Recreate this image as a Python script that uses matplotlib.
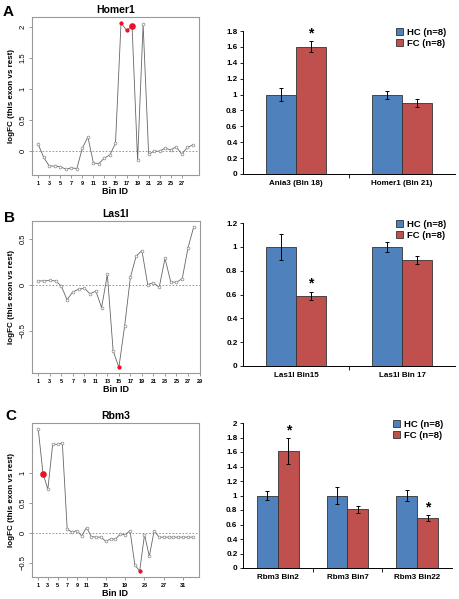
import matplotlib
matplotlib.use("Agg")
import matplotlib.pyplot as plt

plt.rcParams["font.family"] = ["Liberation Sans", "DejaVu Sans"]

# line plot data (logFC per bin)
homer_fc = [0.11, -0.10, -0.24, -0.24, -0.25, -0.29, -0.27, -0.28, 0.05, 0.23,
            -0.19, -0.20, -0.11, -0.06, 0.13, 2.07, 1.95, 2.02, -0.15, 2.05,
            -0.05, 0.00, 0.00, 0.05, 0.02, 0.07, -0.05, 0.06, 0.10]
homer_red = [16, 17, 18]
homer_big = 18

las_fc = [0.04, 0.04, 0.045, 0.04, -0.015, -0.165, -0.08, -0.05, -0.04, -0.10,
          -0.07, -0.25, 0.11, -0.72, -0.90, -0.45, 0.08, 0.31, 0.37, 0.00,
          0.02, -0.03, 0.285, 0.03, 0.025, 0.065, 0.40, 0.63]
las_red = [15]
las_big = None

rbm_fc = [1.74, 0.99, 0.73, 1.48, 1.48, 1.50, 0.07, 0.01, 0.04, -0.05,
          0.09, -0.06, -0.07, -0.07, -0.14, -0.10, -0.10, -0.02, -0.03, 0.04,
          -0.53, -0.64, -0.03, -0.39, 0.04, -0.07, -0.07, -0.07, -0.07, -0.07,
          -0.07, -0.07, -0.07]
rbm_red = [2, 22]
rbm_big = 2

# bar chart data
a_cats = ["Ania3 (Bin 18)", "Homer1 (Bin 21)"]
a_hc = [1.0, 1.0]
a_hc_err = [0.08, 0.05]
a_fc = [1.60, 0.89]
a_fc_err = [0.07, 0.05]
a_star = [0]

b_cats = ["Las1l Bin15", "Las1l Bin 17"]
b_hc = [1.0, 1.0]
b_hc_err = [0.107, 0.04]
b_fc = [0.59, 0.89]
b_fc_err = [0.035, 0.035]
b_star = [0]

c_cats = ["Rbm3 Bin2", "Rbm3 Bin7", "Rbm3 Bin22"]
c_hc = [1.0, 1.0, 1.0]
c_hc_err = [0.06, 0.115, 0.075]
c_fc = [1.61, 0.81, 0.69]
c_fc_err = [0.18, 0.05, 0.045]
c_star = [0, 2]

W, H = 460, 599
fig = plt.figure(figsize=(W / 100, H / 100), dpi=100)


def px(l, t, r, b):
    return [l / W, 1 - b / H, (r - l) / W, (b - t) / H]


def line_panel(rect, vals, red, big, xticks, yticks, title, letter, lpos):
    ax = fig.add_axes(px(*rect))
    bins = list(range(1, len(vals) + 1))
    ax.plot(bins, vals, color="#666666", lw=0.6, zorder=2)
    ax.scatter(bins, vals, s=4, facecolor="white", edgecolor="#888888",
               lw=0.5, zorder=3)
    ax.scatter(red, [vals[i - 1] for i in red], s=4, color="#e8102a", zorder=4)
    if big:
        ax.scatter([big], [vals[big - 1]], s=14, color="#e8102a", zorder=5)
    ax.axhline(0, color="#888888", lw=0.6, ls=(0, (2, 2)), zorder=1)
    n = len(vals)
    ax.set_xlim(1 - 0.04 * (n - 1), n + 0.04 * (n - 1))
    lo, hi = min(vals), max(vals)
    ax.set_ylim(lo - 0.04 * (hi - lo), hi + 0.04 * (hi - lo))
    ax.set_xticks(xticks)
    ax.set_xticklabels([str(x) for x in xticks], fontsize=4, fontweight="bold")
    ax.set_yticks(yticks)
    ax.set_yticklabels([f"{y:g}".replace("-", "\u2212") for y in yticks],
                       fontsize=5.5, rotation=90, va="center")
    for s in ax.spines.values():
        s.set_color("#999999")
        s.set_linewidth(0.8)
    ax.tick_params(colors="#888888", labelcolor="black", length=2.5, width=0.6,
                   pad=1.5)
    ax.set_xlabel("Bin ID", fontsize=6.5, fontweight="bold", labelpad=1)
    ax.set_ylabel("logFC (this exon vs rest)", fontsize=5.8, fontweight="bold",
                  labelpad=3)
    ax.set_title(title, fontsize=7.5, fontweight="bold", pad=3)
    fig.text(lpos[0] / W, 1 - lpos[1] / H, letter, fontsize=11,
             fontweight="bold", ha="left", va="center")
    return ax


def bar_panel(rect, cats, hc, hce, fc, fce, stars, ymax, width):
    ax = fig.add_axes(px(*rect))
    x = list(range(len(cats)))
    xh = [i - width / 2 for i in x]
    xf = [i + width / 2 for i in x]
    ek = dict(ecolor="black", elinewidth=0.7, capsize=1.5, capthick=0.7)
    ax.bar(xh, hc, width, yerr=hce, color="#4f81bd", edgecolor="#333333",
           lw=0.6, label="HC (n=8)", error_kw=ek)
    ax.bar(xf, fc, width, yerr=fce, color="#c0504d", edgecolor="#333333",
           lw=0.6, label="FC (n=8)", error_kw=ek)
    for i in stars:
        ax.text(xf[i], fc[i] + fce[i] + 0.005 * ymax, "*", ha="center",
                va="bottom", fontsize=10, fontweight="bold")
    ax.set_xlim(-0.5, len(cats) - 0.5)
    ax.set_ylim(0, ymax)
    yt = [round(0.2 * k, 1) for k in range(int(round(ymax / 0.2)) + 1)]
    ax.set_yticks(yt)
    ax.set_yticklabels([f"{y:g}" for y in yt], fontsize=5.8, fontweight="bold")
    ax.set_xticks(x)
    ax.set_xticklabels(cats, fontsize=5.8, fontweight="bold")
    ax.set_xticks([i + 0.5 for i in x[:-1]], minor=True)
    ax.tick_params(axis="x", which="major", length=0, pad=4)
    ax.tick_params(axis="x", which="minor", length=3, width=0.6)
    ax.tick_params(axis="y", length=2.5, width=0.6, pad=1.5)
    ax.spines["top"].set_visible(False)
    ax.spines["right"].set_visible(False)
    for s in ["left", "bottom"]:
        ax.spines[s].set_linewidth(0.7)
    ax.legend(loc="upper right", bbox_to_anchor=(1.0, 1.08), frameon=False,
              prop={"weight": "bold", "size": 6.8},
              handlelength=0.8, handleheight=0.8, handletextpad=0.4,
              labelspacing=0.2)
    return ax


line_panel((32, 17, 199, 175), homer_fc, homer_red, homer_big,
           list(range(1, 28, 2)), [0, 0.5, 1, 1.5, 2], "Homer1", "A", (3, 12))
line_panel((32, 221, 200, 373), las_fc, las_red, las_big,
           list(range(1, 30, 2)), [-0.5, 0, 0.5], "Las1l", "B", (4, 218))
line_panel((32, 423, 199, 577), rbm_fc, rbm_red, rbm_big,
           [1, 3, 5, 7, 9, 11, 15, 19, 23, 27, 31], [-0.5, 0, 0.5, 1],
           "Rbm3", "C", (5, 416))

bar_panel((243, 31, 455, 174), a_cats, a_hc, a_hc_err, a_fc, a_fc_err,
          a_star, 1.8, 0.285)
bar_panel((243, 223, 455, 366), b_cats, b_hc, b_hc_err, b_fc, b_fc_err,
          b_star, 1.2, 0.285)
bar_panel((243, 423, 452, 568), c_cats, c_hc, c_hc_err, c_fc, c_fc_err,
          c_star, 2.0, 0.30)

fig.savefig("out.png", dpi=100)
